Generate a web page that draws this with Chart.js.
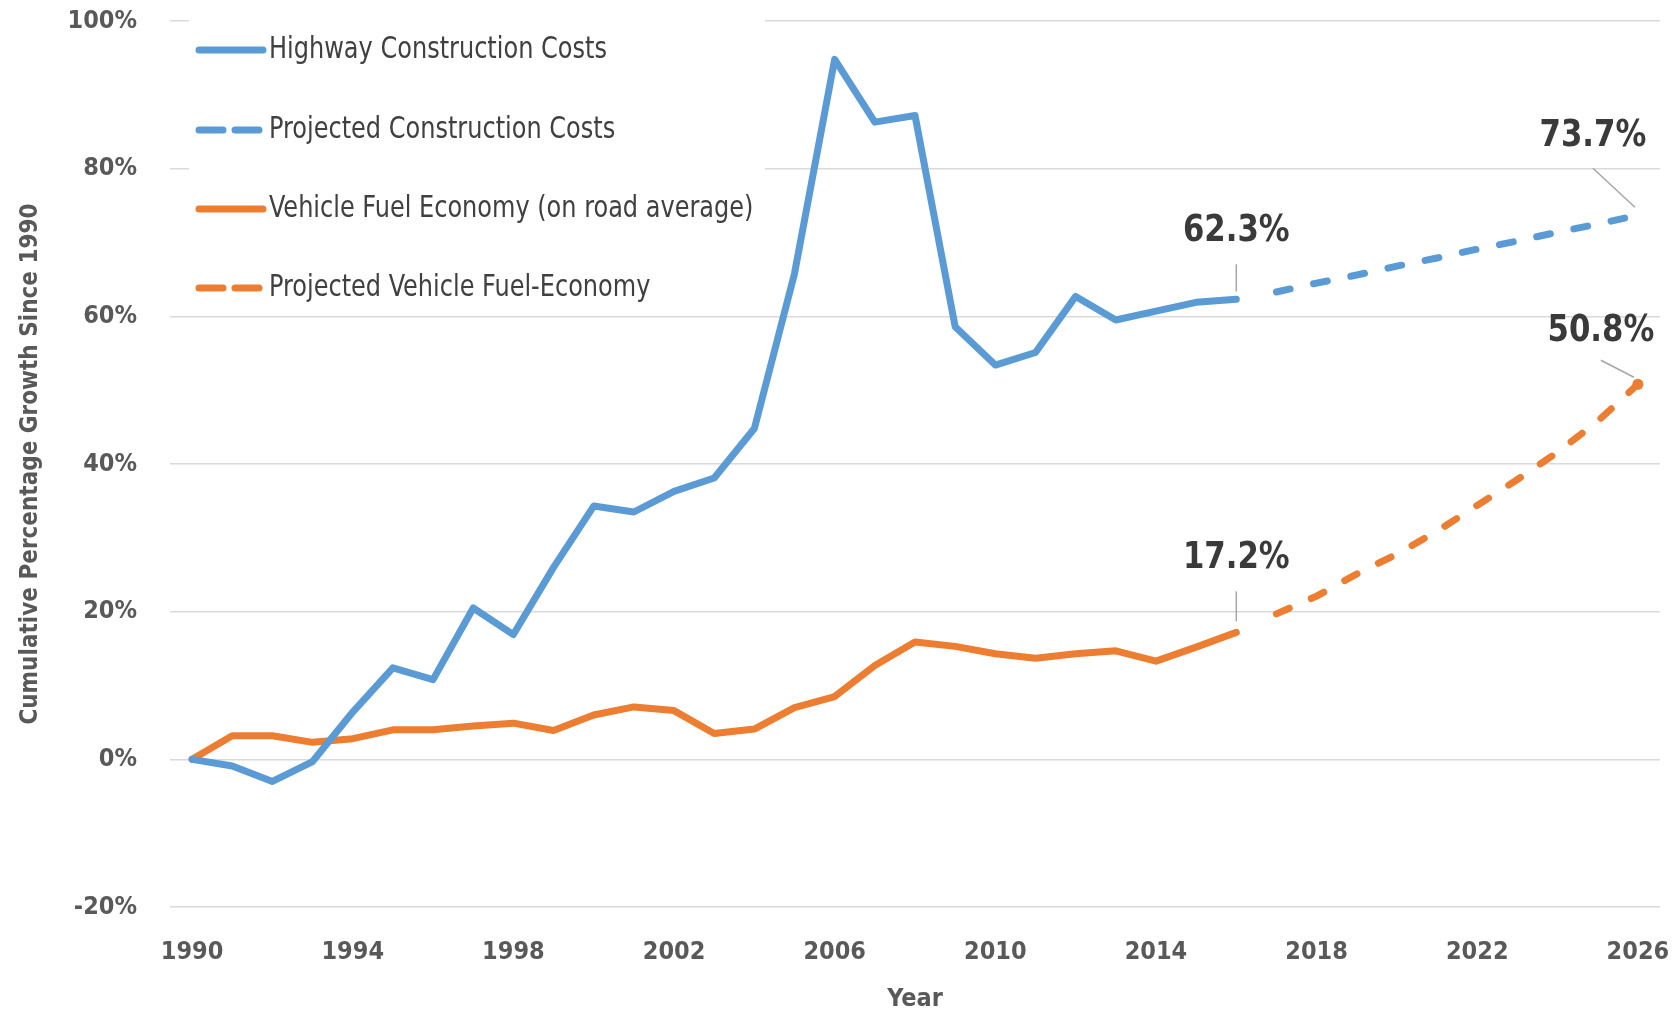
<!DOCTYPE html>
<html>
<head>
<meta charset="utf-8">
<title>Highway Construction Costs vs Vehicle Fuel Economy</title>
<script src="https://cdn.jsdelivr.net/npm/chart.js@4.4.1/dist/chart.umd.min.js"></script>
<style>
  html, body { margin: 0; padding: 0; background: #fff; }
  #wrap { width: 1673px; height: 1014px; }
</style>
</head>
<body>
<div id="wrap"><canvas id="growth-chart"></canvas></div>
<script>
/* ── Data ── */
const yearTicks = [1990, 1994, 1998, 2002, 2006, 2010, 2014, 2018, 2022, 2026];

// cumulative % growth since 1990, one value per year
const highwayStart = 1990;
const highwayCosts = [0, -0.9, -3.0, -0.3, 6.4, 12.4, 10.8, 20.5, 16.9, 26.0, 34.3, 33.5, 36.3, 38.1, 44.8,
  65.8, 94.8, 86.3, 87.2, 58.6, 53.4, 55.1, 62.7, 59.5, 60.7, 61.9, 62.3];

const projectedCostsStart = 2017;
const projectedCosts = [63.3, 64.5, 65.6, 66.8, 67.9, 69.1, 70.2, 71.4, 72.5, 73.7];

const fuelStart = 1990;
const fuelEconomy = [0, 3.2, 3.2, 2.3, 2.8, 4.0, 4.0, 4.5, 4.9, 3.9, 6.0, 7.1, 6.6, 3.5, 4.1,
  7.0, 8.5, 12.7, 15.9, 15.3, 14.3, 13.7, 14.3, 14.7, 13.3, 15.2, 17.2];

const projectedFuelStart = 2017;
const projectedFuel = [19.7, 22.1, 25.1, 27.8, 30.9, 34.4, 37.9, 41.6, 45.8, 50.8];

/* ── Styling ── */
const FONT = "'Liberation Sans Narrow', 'DejaVu Sans Condensed', 'Arial Narrow', sans-serif";
const BLUE = '#5B9BD5';
const ORANGE = '#ED7D31';
const AXIS_TEXT = '#595959';
const GRID = '#dadada';

function toPoints(values, start) {
  return values.map((v, i) => ({ x: start + i, y: v }));
}

// squeeze text horizontally so it reads like a condensed face
function narrowText(ctx, text, x, y, squeeze) {
  ctx.save();
  ctx.translate(x, y);
  ctx.scale(squeeze, 1);
  ctx.fillText(text, 0, 0);
  ctx.restore();
}

// value callouts: dataset index, which point, label/leader offsets from the point (px)
const callouts = [
  { ds: 0, idx: 'last', label: [0, -68], leader: [[0, -35], [0, -8]] },
  { ds: 2, idx: 'last', label: [0, -74], leader: [[0, -41], [0, -11]] },
  { ds: 1, idx: 'last', label: [-45, -79], leader: [[-45, -47], [-3, -8]] },
  { ds: 3, idx: 'last', label: [-37, -53], leader: [[-37, -24], [-4, -7]] },
];

/* ── Legend drawn inside the plot, on a white box ── */
const insideLegend = {
  id: 'insideLegend',
  beforeDatasetsDraw(chart) {
    const { ctx } = chart;
    ctx.save();
    ctx.fillStyle = '#fff';
    ctx.fillRect(189, 0, 576, 305);
    const rows = [50, 130, 209, 288];
    chart.data.datasets.forEach((ds, i) => {
      const y = rows[i];
      ctx.beginPath();
      ctx.strokeStyle = ds.borderColor;
      ctx.lineWidth = 7;
      ctx.lineCap = 'round';
      ctx.setLineDash(ds.borderDash ? [24, 12] : []);
      ctx.moveTo(199, y);
      ctx.lineTo(ds.borderDash ? 260 : 263, y);
      ctx.stroke();
      ctx.setLineDash([]);
      ctx.fillStyle = '#404040';
      ctx.font = '30px ' + FONT;
      ctx.textAlign = 'left';
      ctx.textBaseline = 'middle';
      narrowText(ctx, ds.label, 269, y, 0.89);
    });
    ctx.restore();
  }
};

/* ── Value callouts with leader lines ── */
const valueCallouts = {
  id: 'valueCallouts',
  afterDatasetsDraw(chart) {
    const { ctx } = chart;
    ctx.save();
    callouts.forEach(c => {
      const meta = chart.getDatasetMeta(c.ds);
      const data = chart.data.datasets[c.ds].data;
      const i = c.idx === 'last' ? data.length - 1 : c.idx;
      const pt = meta.data[i];
      const value = data[i].y;
      ctx.beginPath();
      ctx.strokeStyle = '#a6a6a6';
      ctx.lineWidth = 1.5;
      ctx.moveTo(pt.x + c.leader[0][0], pt.y + c.leader[0][1]);
      ctx.lineTo(pt.x + c.leader[1][0], pt.y + c.leader[1][1]);
      ctx.stroke();
      ctx.fillStyle = '#3a3a3a';
      ctx.font = 'bold 38px ' + FONT;
      ctx.textAlign = 'center';
      ctx.textBaseline = 'middle';
      narrowText(ctx, value.toFixed(1) + '%', pt.x + c.label[0], pt.y + c.label[1], 0.9);
    });
    ctx.restore();
  }
};

const lineBase = {
  borderWidth: 7,
  borderCapStyle: 'round',
  borderJoinStyle: 'round',
  pointRadius: 0,
  tension: 0,
  fill: false,
};

new Chart(document.getElementById('growth-chart'), {
  type: 'line',
  data: {
    datasets: [
      { ...lineBase, label: 'Highway Construction Costs', data: toPoints(highwayCosts, highwayStart),
        borderColor: BLUE, backgroundColor: BLUE },
      { ...lineBase, label: 'Projected Construction Costs', data: toPoints(projectedCosts, projectedCostsStart),
        borderColor: BLUE, backgroundColor: BLUE, borderDash: [14, 24] },
      { ...lineBase, label: 'Vehicle Fuel Economy (on road average)', data: toPoints(fuelEconomy, fuelStart),
        borderColor: ORANGE, backgroundColor: ORANGE },
      { ...lineBase, label: 'Projected Vehicle Fuel-Economy', data: toPoints(projectedFuel, projectedFuelStart),
        borderColor: ORANGE, backgroundColor: ORANGE, borderDash: [14, 24],
        pointRadius: ctx => ctx.dataIndex === projectedFuel.length - 1 ? 5.5 : 0,
        pointBorderWidth: 0, pointBackgroundColor: ORANGE },
    ]
  },
  options: {
    responsive: true,
    maintainAspectRatio: false,
    animation: false,
    devicePixelRatio: 1,
    layout: { padding: { top: 21, right: 13, bottom: 0, left: 0 } },
    plugins: {
      legend: { display: false },
      tooltip: { enabled: false },
    },
    scales: {
      x: {
        type: 'linear',
        min: 1989.45,
        max: 2026.55,
        afterBuildTicks: s => { s.ticks = yearTicks.map(v => ({ value: v })); },
        afterFit: s => { s.height = 107; s.paddingLeft = 0; s.paddingRight = 0; },
        grid: { display: false },
        border: { display: false },
        ticks: {
          padding: 22,
          maxRotation: 0,
          autoSkip: false,
          color: AXIS_TEXT,
          font: { family: FONT, size: 25, weight: 'bold' },
          callback: v => String(v),
        },
        title: {
          display: true,
          text: 'Year',
          color: AXIS_TEXT,
          font: { family: FONT, size: 25, weight: 'bold' },
          padding: { top: 0, bottom: 0 },
        },
      },
      y: {
        min: -20,
        max: 100,
        afterFit: s => { s.width = 170; s.paddingTop = 0; s.paddingBottom = 0; },
        grid: { color: GRID, lineWidth: 1.5, drawTicks: false },
        border: { display: false },
        ticks: {
          stepSize: 20,
          padding: 33,
          color: AXIS_TEXT,
          font: { family: FONT, size: 25, weight: 'bold' },
          callback: v => v + '%',
        },
        title: {
          display: true,
          text: 'Cumulative Percentage Growth Since 1990',
          color: AXIS_TEXT,
          font: { family: FONT, size: 24, weight: 'bold' },
          padding: { top: 16, bottom: 0 },
        },
      },
    },
  },
  plugins: [insideLegend, valueCallouts],
});
</script>
</body>
</html>
